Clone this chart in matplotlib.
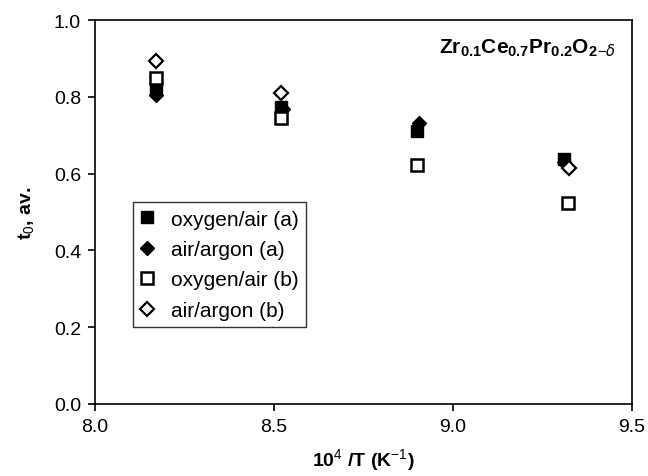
import matplotlib.pyplot as plt

plt.rcParams['font.family'] = ['Liberation Sans', 'DejaVu Sans']
plt.rcParams['mathtext.fontset'] = 'custom'
plt.rcParams['mathtext.rm'] = 'Liberation Sans'
plt.rcParams['mathtext.bf'] = 'Liberation Sans:bold'

# 10^4/T values and t0 averages for each series
x_o2air_a = [8.17, 8.52, 8.90, 9.31]
t0_o2air_a = [0.823, 0.773, 0.711, 0.637]
x_airar_a = [8.17, 8.525, 8.905, 9.31]
t0_airar_a = [0.805, 0.768, 0.732, 0.630]
x_o2air_b = [8.17, 8.52, 8.90, 9.32]
t0_o2air_b = [0.849, 0.744, 0.622, 0.524]
x_airar_b = [8.17, 8.52, 9.325]
t0_airar_b = [0.892, 0.810, 0.615]

fig = plt.figure(figsize=(6.48, 4.77), dpi=100)
ax = fig.add_axes([95 / 648, 72 / 477, 537 / 648, 384 / 477])

ax.plot(x_o2air_a, t0_o2air_a, 's', color='black', markersize=8.5,
        label='oxygen/air (a)')
ax.plot(x_airar_a, t0_airar_a, 'D', color='black', markersize=7.5,
        label='air/argon (a)')
ax.plot(x_o2air_b, t0_o2air_b, 's', mfc='white', mec='black', mew=1.8,
        markersize=8.5, label='oxygen/air (b)')
ax.plot(x_airar_b, t0_airar_b, 'D', mfc='white', mec='black', mew=1.6,
        markersize=7.5, label='air/argon (b)')

ax.set_xlim(8.0, 9.5)
ax.set_ylim(0.0, 1.0)
ax.set_xticks([8.0, 8.5, 9.0, 9.5])
ax.set_yticks([0.0, 0.2, 0.4, 0.6, 0.8, 1.0])
ax.xaxis.set_major_formatter(plt.FormatStrFormatter('%.1f'))
ax.yaxis.set_major_formatter(plt.FormatStrFormatter('%.1f'))
ax.tick_params(direction='out', length=5, width=1.2, labelsize=14,
               colors='black', pad=5)
for s in ax.spines.values():
    s.set_linewidth(1.2)

ax.set_xlabel(r'10$^{4}$ /T (K$^{-1}$)', fontsize=14, fontweight='bold',
              labelpad=8)
ax.set_ylabel(r't$_{0}$, av.', fontsize=14, fontweight='bold', labelpad=12)

ax.text(0.97, 0.93, r'$\mathbf{Zr_{0.1}Ce_{0.7}Pr_{0.2}O_{2}}$' + r'$_{\mathrm{-}\delta}$',
        transform=ax.transAxes, ha='right', va='center', fontsize=15)

leg = ax.legend(loc='lower left', bbox_to_anchor=(0.07, 0.2), fontsize=15,
                frameon=True, fancybox=False, edgecolor='black',
                handlelength=0.7, handletextpad=0.8, borderpad=0.35,
                labelspacing=0.55, borderaxespad=0)
leg.get_frame().set_linewidth(1.0)

fig.savefig('out.png', dpi=100)
plt.close()
